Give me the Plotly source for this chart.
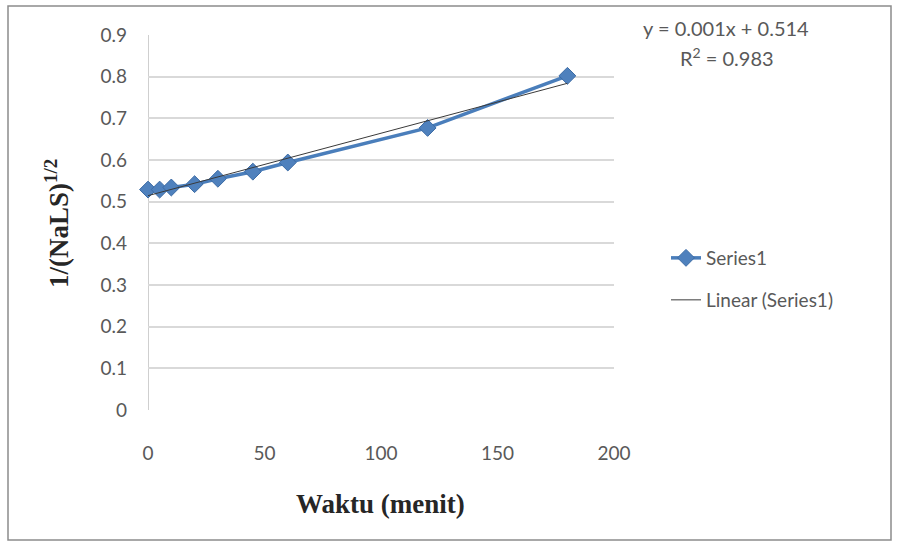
import numpy as np
import plotly.graph_objects as go

# Time (minutes) and 1/(NaLS)^1/2 measurements
waktu = [0, 5, 10, 20, 30, 45, 60, 120, 180]
inv_sqrt_nals = [0.529, 0.529, 0.534, 0.542, 0.555, 0.572, 0.594, 0.677, 0.802]

y_ticks = [0, 0.1, 0.2, 0.3, 0.4, 0.5, 0.6, 0.7, 0.8, 0.9]
x_ticks = [0, 50, 100, 150, 200]

# Least-squares trendline
slope, intercept = np.polyfit(waktu, inv_sqrt_nals, 1)
pred = np.polyval([slope, intercept], waktu)
ss_res = np.sum((np.array(inv_sqrt_nals) - pred) ** 2)
ss_tot = np.sum((np.array(inv_sqrt_nals) - np.mean(inv_sqrt_nals)) ** 2)
r2 = 1 - ss_res / ss_tot
trend_x = [min(waktu), max(waktu)]
trend_y = [slope * v + intercept for v in trend_x]

LABEL_FONT = "Lato, 'Open Sans', sans-serif"
TITLE_FONT = "'Liberation Serif', 'DejaVu Serif', serif"
GRAY = "#595959"
FS = 19

# Plot area: x 148..614 px, y 35..410 px
L, R, T, B = 148, 614, 35, 410

def px_x(px):
    return (px - L) / (R - L)

def px_y(py):
    return (B - py) / (B - T)

fig = go.Figure()
fig.add_trace(go.Scatter(
    x=waktu, y=inv_sqrt_nals, mode="lines+markers", name="Series1",
    line=dict(color="#4A7EBB", width=3.5),
    marker=dict(symbol="diamond", size=13, color="#4F81BD",
                line=dict(color="#3B6BA5", width=1)),
    cliponaxis=False,
    legend="legend",
))
fig.add_trace(go.Scatter(
    x=trend_x, y=trend_y, mode="lines", name="Linear (Series1)",
    line=dict(color="#3a3a3a", width=1),
    cliponaxis=False,
    legend="legend2",
))

fig.update_layout(
    width=899, height=546,
    margin=dict(l=L, r=899 - R, t=T, b=546 - B),
    paper_bgcolor="white", plot_bgcolor="white",
    showlegend=True,
    legend=dict(x=px_x(666), y=px_y(258), xanchor="left", yanchor="middle",
                font=dict(family=LABEL_FONT, size=FS, color=GRAY),
                bgcolor="rgba(0,0,0,0)", itemwidth=30),
    legend2=dict(x=px_x(666), y=px_y(300), xanchor="left", yanchor="middle",
                 font=dict(family=LABEL_FONT, size=FS, color=GRAY),
                 bgcolor="rgba(0,0,0,0)", itemwidth=30),
    xaxis=dict(range=[0, 200], tickvals=x_ticks, showgrid=False,
               zeroline=False, showline=False, ticks="",
               tickfont=dict(family=LABEL_FONT, size=FS, color=GRAY),
               ticklabelstandoff=30),
    yaxis=dict(range=[0, 0.9], tickvals=y_ticks,
               ticktext=["0" if v == 0 else f"{v:.1f}" for v in y_ticks],
               showgrid=True, gridcolor="#D9D9D9", gridwidth=1.5,
               zeroline=False, showline=False, ticks="",
               tickfont=dict(family=LABEL_FONT, size=FS, color=GRAY),
               ticklabelstandoff=20),
    shapes=[
        # vertical axis line
        dict(type="line", xref="x", yref="paper", x0=0, x1=0, y0=0, y1=1,
             line=dict(color="#BFBFBF", width=1.5), layer="below"),
        # chart border
        dict(type="rect", xref="paper", yref="paper",
             x0=px_x(8), x1=px_x(891), y0=px_y(6), y1=px_y(540),
             line=dict(color="#8C8C8C", width=1.5)),
    ],
    annotations=[
        dict(text=f"y = {slope:.3f}x + {intercept:.3f}", xref="paper", yref="paper",
             x=px_x(726), y=px_y(28), showarrow=False, xanchor="center", yanchor="middle",
             font=dict(family=LABEL_FONT, size=FS + 1, color=GRAY)),
        dict(text=f"R<sup>2</sup> = {r2:.3f}", xref="paper", yref="paper",
             x=px_x(727), y=px_y(57), showarrow=False, xanchor="center", yanchor="middle",
             font=dict(family=LABEL_FONT, size=FS + 1, color=GRAY)),
        dict(text="<b>Waktu (menit)</b>", xref="paper", yref="paper",
             x=px_x(380), y=px_y(504), showarrow=False, xanchor="center", yanchor="middle",
             font=dict(family=TITLE_FONT, size=27, color="#262626")),
        dict(text="<b>1/(NaLS)<sup>1/2</sup></b>", xref="paper", yref="paper",
             x=px_x(57), y=px_y(224), showarrow=False, xanchor="center", yanchor="middle",
             textangle=-90,
             font=dict(family=TITLE_FONT, size=27, color="#262626")),
    ],
)

fig.write_html("out.html")
